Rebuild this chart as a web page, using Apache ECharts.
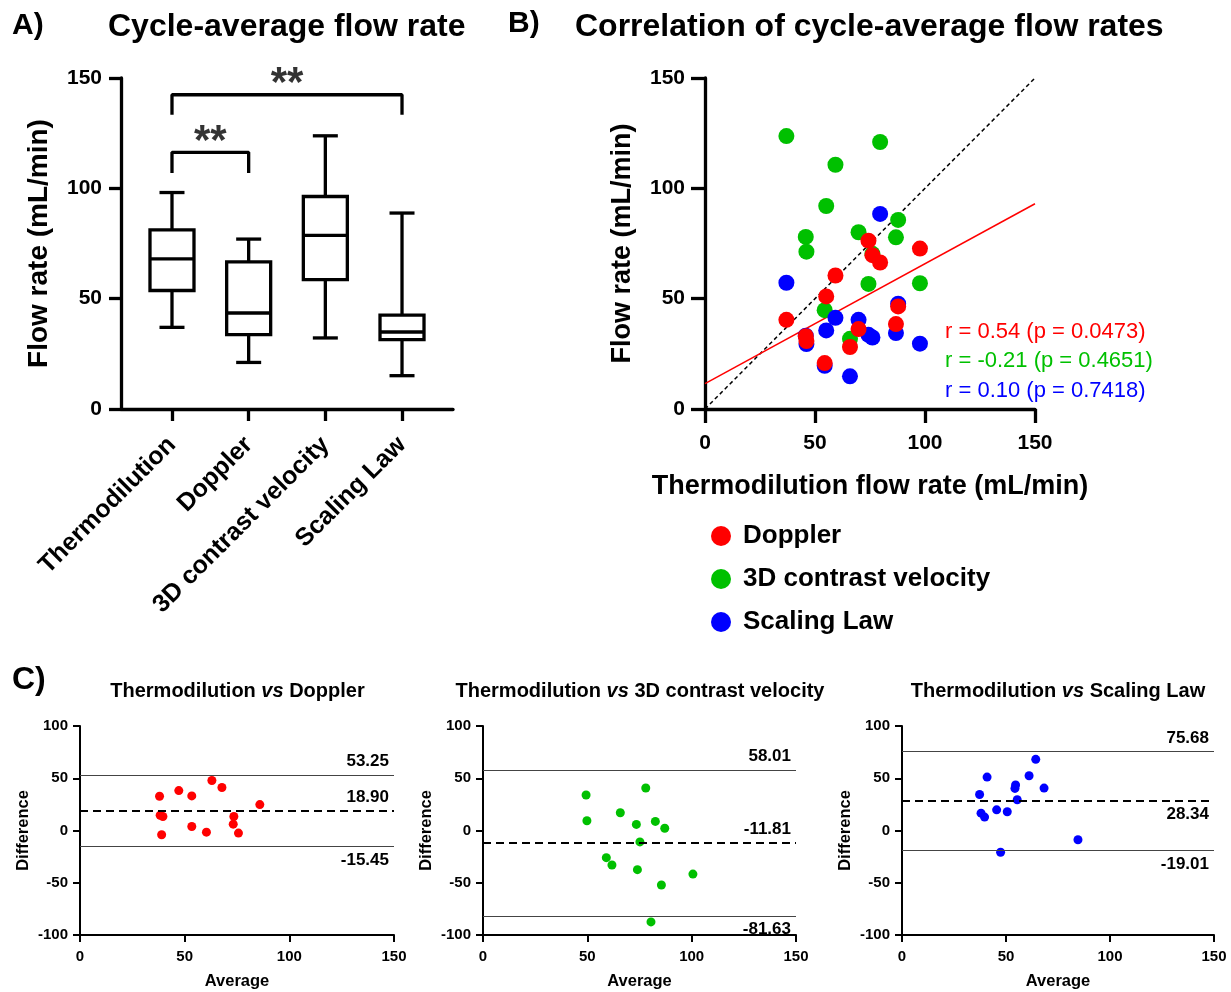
<!DOCTYPE html>
<html><head><meta charset="utf-8">
<script src="https://cdn.jsdelivr.net/npm/echarts@6/dist/echarts.min.js"></script>
<style>html,body{margin:0;padding:0;background:#fff}#c{width:1231px;height:992px}</style>
</head><body><div id="c"></div>
<script>
const FONT = "'Liberation Sans', Arial, Helvetica, sans-serif";

// ---------- Panel A: box plot ----------
const boxCategories = ['Thermodilution', 'Doppler', '3D contrast velocity', 'Scaling Law'];
const boxMin    = [37.0, 21.1, 32.2, 15.1];
const boxQ1     = [53.7, 33.7, 58.6, 31.4];
const boxMedian = [68.0, 43.5, 78.7, 34.9];
const boxQ3     = [81.2, 66.7, 96.3, 42.5];
const boxMax    = [98.1, 77.0, 123.8, 88.8];
const sigFrom = [0, 0];
const sigTo   = [3, 1];
const sigTop  = [142.4, 116.3];
const sigLeg  = [133.3, 106.9];
const sigText = ['**', '**'];

// ---------- Panel B: correlation ----------
const thermoFlow   = [37.0, 45.8, 46.1, 54.4, 55.1, 59.3, 65.9, 69.8, 74.3, 76.1, 79.6, 86.8, 87.8, 97.7];
const dopplerFlow  = [40.4, 33.0, 30.8, 20.8, 51.0, 60.5, 28.1, 36.2, 76.3, 69.7, 66.4, 38.5, 46.5, 72.7];
const contrastFlow = [123.7, 78.0, 71.3, 44.8, 92.0, 110.7, 31.8, 80.1, 56.7, 70.3, 121.0, 77.8, 85.7, 57.0];
const scalingFlow  = [57.2, 33.2, 29.4, 19.6, 35.6, 41.3, 14.8, 40.4, 33.6, 32.4, 88.4, 34.4, 47.7, 29.6];
const identityLine = [[0, 0], [150, 150]];
const dopplerRegression = [[0, 11.5], [150, 93.0]];
const corrTexts = ['r = 0.54 (p = 0.0473)', 'r = -0.21 (p = 0.4651)', 'r = 0.10 (p = 0.7418)'];
const seriesNames = ['Doppler', '3D contrast velocity', 'Scaling Law'];
const seriesColors = ['#ff0000', '#00c000', '#0000ff'];

// ---------- Panel C: Bland-Altman ----------
const baDopplerAvg   = [38.0, 47.2, 53.4, 63.0, 67.8, 85.9, 38.3, 39.6, 73.5, 73.2, 53.4, 60.4, 39.0, 75.7];
const baDopplerDiff  = [32.8, 38.2, 33.1, 47.8, 41.1, 24.8, 14.6, 13.4, 13.4, 6.1, 3.8, -1.6, -4.1, -2.5];
const baContrastAvg  = [49.4, 49.8, 65.8, 73.5, 78.0, 82.6, 87.1, 75.2, 59.1, 61.8, 74.0, 85.5, 100.6, 80.5];
const baContrastDiff = [34.0, 9.3, 17.0, 5.8, 40.7, 8.7, 2.2, -10.9, -26.0, -33.0, -37.5, -52.2, -41.7, -87.5];
const baScalingAvg   = [37.3, 40.9, 38.0, 39.7, 45.5, 50.6, 47.4, 54.6, 54.3, 55.4, 61.1, 64.3, 68.3, 84.6];
const baScalingDiff  = [34.5, 51.1, 16.6, 12.8, 19.8, 17.9, -20.8, 43.5, 40.3, 29.4, 52.4, 68.1, 40.6, -8.9];
const baBias  = [18.90, -11.81, 28.34];
const baUpper = [53.25, 58.01, 75.68];
const baLower = [-15.45, -81.63, -19.01];
const baTitles = [['Thermodilution ', 'vs', ' Doppler'], ['Thermodilution ', 'vs', ' 3D contrast velocity'], ['Thermodilution ', 'vs', ' Scaling Law']];

const chart = echarts.init(document.getElementById('c'));

function zip(a, b) { return a.map((v, i) => [v, b[i]]); }

function axisBase(gridIndex, o) {
  return Object.assign({
    gridIndex: gridIndex,
    type: 'value',
    splitLine: { show: false },
    axisLine: { show: true, onZero: false, lineStyle: { color: '#000', width: o.lw } },
    axisTick: { show: true, inside: false, length: o.tl, lineStyle: { color: '#000', width: o.lw } },
    axisLabel: { color: '#000', fontFamily: FONT, fontWeight: 'bold', fontSize: o.fs, margin: o.lm },
    nameTextStyle: { color: '#000', fontFamily: FONT, fontWeight: 'bold', fontSize: o.nfs },
    nameLocation: 'middle'
  }, o.extra || {});
}

function renderBox(params, api) {
  const i = api.value(0);
  const pMin = api.coord([i, api.value(1)]);
  const pQ1 = api.coord([i, api.value(2)]);
  const pMed = api.coord([i, api.value(3)]);
  const pQ3 = api.coord([i, api.value(4)]);
  const pMax = api.coord([i, api.value(5)]);
  const x = pMed[0], hw = 22, cw = 12.5;
  const st = { stroke: '#000', lineWidth: 3.3, fill: null };
  return {
    type: 'group', children: [
      { type: 'line', shape: { x1: x, y1: pMax[1], x2: x, y2: pQ3[1] }, style: st },
      { type: 'line', shape: { x1: x, y1: pQ1[1], x2: x, y2: pMin[1] }, style: st },
      { type: 'line', shape: { x1: x - cw, y1: pMax[1], x2: x + cw, y2: pMax[1] }, style: st },
      { type: 'line', shape: { x1: x - cw, y1: pMin[1], x2: x + cw, y2: pMin[1] }, style: st },
      { type: 'rect', shape: { x: x - hw, y: pQ3[1], width: 2 * hw, height: pQ1[1] - pQ3[1] }, style: { stroke: '#000', lineWidth: 3.3, fill: '#fff' } },
      { type: 'line', shape: { x1: x - hw, y1: pMed[1], x2: x + hw, y2: pMed[1] }, style: st }
    ]
  };
}

const grids = [
  { left: 121, top: 78, width: 332, height: 331 },
  { left: 705, top: 78, width: 330, height: 331 },
  { left: 80, top: 726, width: 314, height: 209 },
  { left: 483, top: 726, width: 313, height: 209 },
  { left: 902, top: 726, width: 312, height: 209 }
];

const xAxes = [
  axisBase(0, { lw: 3.3, tl: 12, fs: 25, lm: 14, extra: {
    min: -0.665, max: 3.665,
    axisTick: { show: true, length: 12, customValues: [0, 1, 2, 3], lineStyle: { color: '#000', width: 3.3 } },
    axisLabel: { customValues: [0, 1, 2, 3], rotate: 45, margin: 32, color: '#000', fontFamily: FONT, fontWeight: 'bold', fontSize: 25,
      formatter: v => boxCategories[Math.round(v)] }
  } }),
  axisBase(1, { lw: 3.3, tl: 14, fs: 21, lm: 24, nfs: 27, extra: { min: 0, max: 150, interval: 50, name: 'Thermodilution flow rate (mL/min)', nameGap: 64 } }),
  axisBase(2, { lw: 2, tl: 7, fs: 15, lm: 14, nfs: 16.5, extra: { min: 0, max: 150, interval: 50, name: 'Average', nameGap: 38 } }),
  axisBase(3, { lw: 2, tl: 7, fs: 15, lm: 14, nfs: 16.5, extra: { min: 0, max: 150, interval: 50, name: 'Average', nameGap: 38 } }),
  axisBase(4, { lw: 2, tl: 7, fs: 15, lm: 14, nfs: 16.5, extra: { min: 0, max: 150, interval: 50, name: 'Average', nameGap: 38 } })
];
const yAxes = [
  axisBase(0, { lw: 3.3, tl: 12, fs: 21, lm: 19, nfs: 28, extra: { min: 0, max: 150, interval: 50, name: 'Flow rate (mL/min)', nameGap: 68 } }),
  axisBase(1, { lw: 3.3, tl: 14, fs: 21, lm: 20, nfs: 27, extra: { min: 0, max: 150, interval: 50, name: 'Flow rate (mL/min)', nameGap: 69 } }),
  axisBase(2, { lw: 2, tl: 7, fs: 15, lm: 12, nfs: 16.5, extra: { min: -100, max: 100, interval: 50, name: 'Difference', nameGap: 48 } }),
  axisBase(3, { lw: 2, tl: 7, fs: 15, lm: 12, nfs: 16.5, extra: { min: -100, max: 100, interval: 50, name: 'Difference', nameGap: 48 } }),
  axisBase(4, { lw: 2, tl: 7, fs: 15, lm: 12, nfs: 16.5, extra: { min: -100, max: 100, interval: 50, name: 'Difference', nameGap: 48 } })
];

const series = [];
// Panel A boxes
series.push({
  type: 'custom', xAxisIndex: 0, yAxisIndex: 0, renderItem: renderBox, silent: true,
  encode: { x: 0, y: [1, 2, 3, 4, 5] },
  data: boxCategories.map((c, i) => [i, boxMin[i], boxQ1[i], boxMedian[i], boxQ3[i], boxMax[i]])
});
sigFrom.forEach((f, k) => {
  const t = sigTo[k];
  series.push({
    type: 'line', xAxisIndex: 0, yAxisIndex: 0, symbol: 'none', silent: true,
    lineStyle: { color: '#000', width: 3.3 },
    data: [[f, sigLeg[k]], [f, sigTop[k]], [t, sigTop[k]], [t, sigLeg[k]]]
  });
  series.push({
    type: 'scatter', xAxisIndex: 0, yAxisIndex: 0, symbolSize: 0, silent: true,
    data: [[(f + t) / 2, sigTop[k]]],
    label: { show: true, position: 'inside', offset: [0, -10], formatter: sigText[k], color: '#000', fontFamily: FONT, fontWeight: 'bold', fontSize: 42 }
  });
});

// Panel B
series.push({
  type: 'line', xAxisIndex: 1, yAxisIndex: 1, symbol: 'none', silent: true, z: 1,
  lineStyle: { color: '#000', width: 1.5, type: [4, 3] }, data: identityLine
});
series.push({
  type: 'line', xAxisIndex: 1, yAxisIndex: 1, symbol: 'none', silent: true, z: 1,
  lineStyle: { color: '#ff0000', width: 1.5 }, data: dopplerRegression
});
const bYs = [dopplerFlow, contrastFlow, scalingFlow];
[1, 2, 0].forEach(k => {
  series.push({
    name: seriesNames[k], type: 'scatter', xAxisIndex: 1, yAxisIndex: 1, z: 3,
    symbol: 'circle', symbolSize: 16, itemStyle: { color: seriesColors[k], opacity: 1 },
    data: zip(thermoFlow, bYs[k])
  });
});

// Panel C
const baAvg = [baDopplerAvg, baContrastAvg, baScalingAvg];
const baDiff = [baDopplerDiff, baContrastDiff, baScalingDiff];
const labelPos = [['insideEndTop', 'insideEndTop', 'insideEndBottom'], ['insideEndTop', 'insideEndTop', 'insideEndBottom'], ['insideEndTop', 'insideEndBottom', 'insideEndBottom']];
[0, 1, 2].forEach(k => {
  const lab = (pos) => ({ show: true, position: pos, distance: 5, formatter: p => p.value.toFixed(2), color: '#000', fontFamily: FONT, fontWeight: 'bold', fontSize: 17 });
  series.push({
    name: 'BA ' + seriesNames[k], type: 'scatter', xAxisIndex: 2 + k, yAxisIndex: 2 + k,
    symbol: 'circle', symbolSize: 9, itemStyle: { color: seriesColors[k], opacity: 1 },
    data: zip(baAvg[k], baDiff[k]),
    markLine: {
      silent: true, symbol: 'none', animation: false,
      data: [
        { yAxis: baUpper[k], lineStyle: { color: '#444', width: 1, type: 'solid' }, label: lab(labelPos[k][0]) },
        { yAxis: baBias[k], lineStyle: { color: '#000', width: 2, type: [8, 5] }, label: lab(labelPos[k][1]) },
        { yAxis: baLower[k], lineStyle: { color: '#444', width: 1, type: 'solid' }, label: lab(labelPos[k][2]) }
      ]
    }
  });
});

const graphic = [];
function txt(x, y, s, size, extra) {
  graphic.push({ type: 'text', x: x, y: y, silent: true,
    style: Object.assign({ text: s, fill: '#000', font: 'bold ' + size + 'px ' + FONT, verticalAlign: 'middle', align: 'left' }, extra || {}) });
}
txt(12, 26, 'A)', 30);
txt(108, 27, 'Cycle-average flow rate', 32);
txt(508, 24, 'B)', 30);
txt(575, 27, 'Correlation of cycle-average flow rates', 32);
txt(12, 680, 'C)', 32);
corrTexts.forEach((s, k) => {
  graphic.push({ type: 'text', x: 945, y: [331.7, 361, 391][k], silent: true,
    style: { text: s, fill: seriesColors[k], font: 'normal 22px ' + FONT, verticalAlign: 'middle', align: 'left' } });
});
const titleCenters = [237.5, 640, 1058];
baTitles.forEach((t, k) => {
  graphic.push({ type: 'text', x: titleCenters[k], y: 691, silent: true,
    style: { text: '{b|' + t[0] + '}{i|' + t[1] + '}{b|' + t[2] + '}', align: 'center', verticalAlign: 'middle',
      rich: { b: { fontFamily: FONT, fontWeight: 'bold', fontSize: 20, fill: '#000' },
              i: { fontFamily: FONT, fontWeight: 'bold', fontStyle: 'italic', fontSize: 20, fill: '#000' } } } });
});

chart.setOption({
  animation: false,
  backgroundColor: '#fff',
  grid: grids,
  xAxis: xAxes,
  yAxis: yAxes,
  legend: {
    data: seriesNames, orient: 'vertical', left: 706, top: 518,
    icon: 'circle', itemWidth: 20, itemHeight: 20, itemGap: 17,
    textStyle: { color: '#000', fontFamily: FONT, fontWeight: 'bold', fontSize: 26, lineHeight: 26, padding: [0, 0, 0, 7] },
    selectedMode: false
  },
  series: series,
  graphic: graphic
});
</script></body></html>
